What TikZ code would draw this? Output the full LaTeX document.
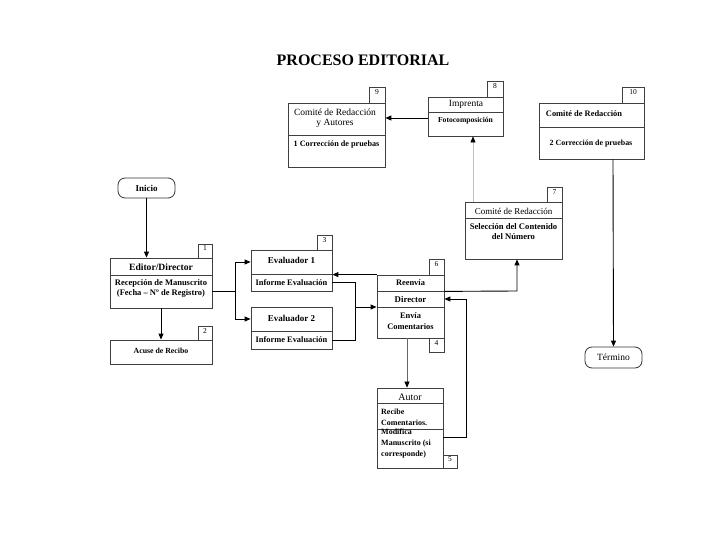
\documentclass[tikz,border=0pt]{standalone}
\usepackage{fontspec}
\setmainfont{Liberation Serif}
\usetikzlibrary{fit,arrows.meta}
\tikzset{
  frame/.style={draw=black!75,line width=0.8pt,inner sep=0pt,fit={#1}},
  numbox/.style={draw=black!75,line width=0.7pt,inner sep=0pt,fit={#1},font=\fontsize{7.5}{8}\selectfont},
  term/.style={draw=black!80,line width=0.8pt,rounded corners=7pt,inner sep=0pt,fit={#1}},
  txt/.style={inner sep=0pt,font=\fontsize{8.4}{10}\selectfont\bfseries},
  txtr/.style={inner sep=0pt,font=\fontsize{9.5}{10}\selectfont},
  hd/.style={inner sep=0pt,font=\fontsize{9}{10}\selectfont\bfseries},
  arr/.style={draw=black,line width=0.9pt,-{Triangle[length=6pt,width=5pt]}},
  ln/.style={draw=black,line width=0.9pt},
  garr/.style={draw=black!25,line width=0.6pt,-{Triangle[length=6pt,width=5pt,color=black]}},
  marr/.style={draw=black!60,line width=0.6pt,-{Triangle[length=6pt,width=5pt,color=black]}}
}
\begin{document}
\begin{tikzpicture}[x=1pt,y=-1pt]
\useasboundingbox[fill=white] (0,0) rectangle (720,540);

% title
\node[inner sep=0pt,font=\fontsize{16}{18}\selectfont\bfseries] (title) at (363,60) {PROCESO EDITORIAL};

% box 9
\node[numbox={(369,87) (385,103)}] (n9) {9};
\node[frame={(288,103) (385,135)}] (h9) {};
\node[frame={(288,135) (385,167)}] (b9) {};
\node[txtr,align=center] (t9a) at (335,118.5) {Comité de Redacción\\y Autores};
\node[txt,font=\fontsize{8.2}{10}\selectfont\bfseries] (t9b) at (336.5,145) {1 Corrección de pruebas};

% box 8
\node[numbox={(487,81) (503,97)}] (n8) {8};
\node[frame={(428,97) (503,112)}] (h8) {};
\node[frame={(428,112) (503,136)}] (b8) {};
\node[txtr] (t8a) at (466,104) {Imprenta};
\node[txt,font=\fontsize{7.6}{9}\selectfont\bfseries] (t8b) at (465.5,121) {Fotocomposición};

% box 10
\node[numbox={(622,87) (644,103)}] (n10) {10};
\node[frame={(539,103) (644,127)}] (h10) {};
\node[frame={(539,127) (644,159)}] (b10) {};
\node[txt,font=\fontsize{8.4}{10}\selectfont\bfseries] (t10a) at (584,114) {Comité de Redacción};
\node[txt,font=\fontsize{7.9}{10}\selectfont\bfseries] (t10b) at (591,144) {2 Corrección de pruebas};

% box 7
\node[numbox={(547,187) (562,202)}] (n7) {7};
\node[frame={(465,202) (562,218)}] (h7) {};
\node[frame={(465,218) (562,259)}] (b7) {};
\node[txtr,font=\fontsize{9}{10}\selectfont] (t7a) at (513.5,211) {Comité de Redacción};
\node[txt,align=center,font=\fontsize{8.6}{10}\selectfont\bfseries] (t7b) at (513.5,232) {Selección del Contenido\\del Número};

% inicio
\node[term={(118,178) (175,198)}] (ini) {};
\node[txt,font=\fontsize{9}{10}\selectfont\bfseries] (tini) at (146.5,188) {Inicio};

% box 1
\node[numbox={(198,244) (212,258)}] (n1) {1};
\node[frame={(110,258) (212,275)}] (h1) {};
\node[frame={(110,275) (212,308)}] (b1) {};
\node[hd,font=\fontsize{9.6}{10}\selectfont\bfseries] (t1a) at (161,267) {Editor/Director};
\node[txt,align=center,font=\fontsize{8.5}{10}\selectfont\bfseries] (t1b) at (161,288) {Recepción de Manuscrito\\(Fecha – Nº de Registro)};

% box 2
\node[numbox={(198,326) (212,340)}] (n2) {2};
\node[frame={(110,340) (212,364)}] (b2) {};
\node[txt,font=\fontsize{7.8}{10}\selectfont\bfseries] (t2) at (161,351) {Acuse de Recibo};

% evaluador 1
\node[numbox={(317,235) (332,250)}] (n3) {3};
\node[frame={(251,250) (332,274)}] (h3) {};
\node[frame={(251,274) (332,291)}] (b3) {};
\node[hd] (t3a) at (291.5,260) {Evaluador 1};
\node[txt] (t3b) at (291.5,283) {Informe Evaluación};

% evaluador 2
\node[frame={(251,307) (332,331)}] (h3b) {};
\node[frame={(251,331) (332,349)}] (b3b) {};
\node[hd] (t3c) at (291.5,318) {Evaluador 2};
\node[txt] (t3d) at (291.5,340) {Informe Evaluación};

% director
\node[numbox={(429,259) (444,275)}] (n6) {6};
\node[frame={(377,275) (444,291)}] (r6) {};
\node[frame={(377,291) (444,307)}] (d6) {};
\node[frame={(377,307) (444,338)}] (e6) {};
\node[numbox={(429,338) (444,352)}] (n4) {4};
\node[txt] (t6a) at (410.5,283) {Reenvía};
\node[hd,font=\fontsize{8.8}{10}\selectfont\bfseries] (t6b) at (410.5,299.5) {Director};
\node[txt,align=center,font=\fontsize{8.4}{11}\selectfont\bfseries] (t6c) at (410.5,321.5) {Envía\\Comentarios};

% autor
\node[frame={(377,388) (443,403)}] (h5) {};
\node[frame={(377,403) (443,429)}] (r5) {};
\node[frame={(377,429) (443,468)}] (m5) {};
\node[numbox={(443,455) (457,468)}] (n5) {5};
\node[txtr,font=\fontsize{10}{10}\selectfont] (t5a) at (410,397.5) {Autor};
\node[txt,align=left,anchor=west,font=\fontsize{8}{11}\selectfont\bfseries] (t5b) at (381,417.5) {Recibe\\Comentarios.};
\node[txt,align=left,anchor=west,font=\fontsize{8}{11}\selectfont\bfseries] (t5c) at (381,444) {Modifica\\Manuscrito (si\\corresponde)};

% termino
\node[term={(585,347) (642,368)}] (fin) {};
\node[txtr] (tfin) at (613.5,357.5) {Término};

% connectors
\draw[arr] (ini.south) -- (ini.south |- h1.north);
\draw[arr] (b1.south) -- (b2.north);
\coordinate (j1) at (235,291);
\draw[ln] (j1 -| b1.east) -- (j1);
\draw[arr] (j1) |- (h3.west);
\draw[arr] (j1) |- (h3b.west);
\coordinate (j2) at (355,307);
\draw[ln] (b3.east) -| (j2);
\draw[ln] (b3b.east) -| (j2);
\draw[arr] (j2) -- (j2 -| d6.west);
\draw[arr] (r6.north west) -- (r6.north west -| h3.east);
\coordinate (j3) at (517,291);
\draw[arr] (r6.south east) -- (j3) -- (j3 |- b7.south);
\coordinate (j4) at (473,200);
\draw[garr] (j4 |- h7.north) -- (j4 |- b8.south);
\coordinate (j5) at (420,118);
\draw[arr] (j5 -| b8.west) -- (j5 -| h9.east);
\coordinate (j6) at (613,200);
\draw[arr] (j6 |- b10.south) -- (fin.north);
\coordinate (j7) at (407,360);
\draw[marr] (j7 |- e6.south) -- (j7 |- h5.north);
\coordinate (j8) at (466,437);
\draw[arr] (j8 -| m5.east) -- (j8) |- (d6.east);
\end{tikzpicture}
\end{document}
